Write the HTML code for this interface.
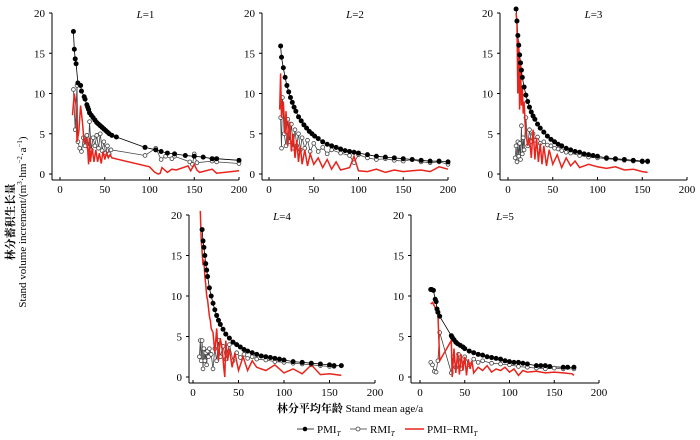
<!DOCTYPE html>
<html><head><meta charset="utf-8"><style>
html,body{margin:0;padding:0;background:#fff;}
svg{display:block;font-family:"Liberation Serif","Noto Serif CJK SC",serif;}
</style></head><body>
<svg id="c" width="700" height="440" viewBox="0 0 700 440">
<text x="0" y="0" transform="translate(14,222) rotate(-90)" text-anchor="middle" font-size="11" font-weight="bold">林分蓄积生长量</text>
<text x="0" y="0" transform="translate(26,222) rotate(-90)" text-anchor="middle" font-size="11">Stand volume increment/(m<tspan font-size="7" dy="-4">3</tspan><tspan dy="4">·hm</tspan><tspan font-size="7" dy="-4">−2</tspan><tspan dy="4">·a</tspan><tspan font-size="7" dy="-4">−1</tspan><tspan dy="4">)</tspan></text>
<text x="350" y="412" text-anchor="middle" font-size="11"><tspan font-weight="bold">林分平均年龄</tspan> Stand mean age/a</text>
<g font-size="11">
<g><line x1="297" y1="429" x2="314" y2="429" stroke="#000" stroke-width="0.8"/><circle cx="305" cy="429" r="2.3" fill="#000"/><text x="317" y="433">PMI<tspan font-size="7" font-style="italic" dy="3">T</tspan></text></g>
<g><line x1="350" y1="429" x2="367" y2="429" stroke="#333" stroke-width="0.8"/><circle cx="358" cy="429" r="2" fill="#fff" stroke="#444" stroke-width="0.8"/><text x="370" y="433">RMI<tspan font-size="7" font-style="italic" dy="3">T</tspan></text></g>
<g><line x1="405" y1="429" x2="424" y2="429" stroke="#e8241c" stroke-width="1.5"/><text x="427" y="433">PMI−RMI<tspan font-size="7" font-style="italic" dy="3">T</tspan></text></g>
</g>
</svg>
<script>
const xTicks=[0,50,100,150,200];
const yTicks=[0,5,10,15,20];
const panelLabels=["L=1","L=2","L=3","L=4","L=5"];
// Panel 1
const p1PmiAge=[15,16,17,18,20,23,24,27,28,30,31,32,33,35,37,39,41,43,45,47,49,51,53,55,58,63,95,107,113,120,128,140,150,160,170,175,200];
const p1Pmi=[17.7,15.5,14.3,13.7,11.3,11.0,10.3,9.6,9.3,8.6,8.3,8.0,7.6,7.3,7.0,6.7,6.4,6.2,6.0,5.8,5.6,5.4,5.2,5.0,4.8,4.6,3.3,3.0,2.8,2.6,2.5,2.3,2.2,2.1,1.9,1.9,1.7];
const p1RmiAge=[15,17,19,20,22,24,26,28,30,32,33,35,37,39,41,43,45,47,49,51,53,55,57,95,107,113,118,125,128,145,148,150,153,170,175,200];
const p1Rmi=[10.5,5.5,11.0,4.0,3.2,2.8,4.5,3.5,4.8,3.3,6.5,3.0,4.5,3.5,4.8,3.2,5.0,2.9,4.0,2.6,3.5,2.5,3.0,2.3,3.2,1.8,2.2,1.9,2.2,1.5,1.2,2.5,1.4,1.6,1.5,1.3];
const p1DiffAge=[14,16,18,19,21,23,25,27,29,31,32,33,34,36,38,40,42,44,46,48,50,52,54,56,58,100,106,110,112,114,120,125,130,143,146,150,153,156,170,175,200];
const p1Diff=[7.3,10.0,8.5,4.0,5.2,8.5,6.5,3.8,4.5,3.0,1.2,4.5,1.5,3.2,1.5,3.0,1.5,2.6,1.3,2.8,1.8,2.6,2.0,2.4,2.0,0.9,0.2,0.0,0.1,0.8,0.2,0.6,0.5,1.0,0.4,1.2,0.5,0.2,0.6,0.1,0.4];
// Panel 2
const p2PmiAge=[13,14,16,18,20,22,24,26,28,30,33,36,39,42,45,48,51,55,60,65,70,75,80,85,90,95,100,110,120,130,140,150,160,170,180,190,200];
const p2Pmi=[15.9,14.5,13.2,12.0,11.0,10.2,9.5,8.9,8.3,7.8,7.1,6.6,6.1,5.7,5.3,5.0,4.7,4.4,4.0,3.7,3.5,3.3,3.1,2.9,2.8,2.7,2.6,2.4,2.2,2.1,2.0,1.9,1.8,1.7,1.6,1.6,1.5];
const p2RmiAge=[13,14,15,17,19,21,23,25,27,29,31,33,35,37,40,43,46,50,55,60,65,70,80,90,95,100,110,120,130,140,150,160,170,180,190,200];
const p2Rmi=[7.0,3.2,9.5,5.0,3.5,6.8,4.0,6.2,3.2,5.5,3.5,5.0,3.0,4.5,3.2,4.2,2.8,3.8,2.8,3.3,2.5,3.0,2.6,2.3,1.4,2.4,2.0,1.8,1.9,1.7,1.6,1.8,1.5,1.4,1.5,1.2];
const p2DiffAge=[12,13,14,16,18,19,21,23,25,27,29,31,33,35,37,40,43,46,50,55,60,65,70,75,80,90,95,100,110,120,130,140,150,160,170,180,190,200];
const p2Diff=[8.0,12.5,7.0,9.0,5.0,7.8,3.5,6.5,2.8,5.0,2.0,4.2,1.5,3.5,1.2,3.0,1.0,2.5,1.2,2.0,0.8,1.8,0.6,1.5,0.5,0.8,2.2,0.4,0.3,0.6,0.2,0.5,0.3,0.4,0.5,0.3,0.9,0.6];
// Panel 3
const p3PmiAge=[9,10,11,12,13,14,15,16,18,20,22,24,26,28,30,33,36,40,44,48,52,56,60,65,70,75,80,85,90,95,100,110,120,130,140,150,156];
const p3Pmi=[20.5,19.0,17.2,16.0,14.8,13.8,12.9,12.0,10.8,9.8,9.0,8.3,7.7,7.2,6.8,6.2,5.7,5.2,4.7,4.3,4.0,3.7,3.5,3.2,3.0,2.8,2.7,2.5,2.4,2.3,2.2,2.0,1.9,1.8,1.7,1.6,1.6];
const p3RmiAge=[8,9,10,11,12,13,14,15,16,17,18,20,22,24,26,28,30,33,36,40,44,48,52,56,60,65,70,80,90,100,110,120,130,140,150,156];
const p3Rmi=[2.0,3.5,1.5,4.0,2.2,3.8,1.8,6.0,2.5,4.5,3.0,7.0,3.5,5.5,4.0,5.0,4.2,4.6,3.8,4.0,3.6,3.5,3.2,3.1,2.9,2.7,2.6,2.3,2.1,2.0,1.9,1.8,1.7,1.6,1.5,1.5];
const p3DiffAge=[9,10,11,12,13,14,15,16,17,18,19,20,22,24,26,28,30,32,34,36,38,40,43,46,50,55,60,65,70,75,80,90,100,110,120,130,140,150,156];
const p3Diff=[20.0,18.5,10.0,16.5,8.0,14.0,8.5,11.0,7.5,9.0,6.5,5.0,3.5,4.5,2.0,5.5,1.8,4.5,1.5,3.8,1.2,3.5,1.0,3.0,1.2,2.4,0.8,2.0,1.0,1.6,0.8,1.2,0.9,0.7,0.9,0.5,0.6,0.3,0.2];
// Panel 4
const p4PmiAge=[10,11,12,13,14,15,16,18,20,22,24,26,28,30,33,36,40,44,48,52,56,60,65,70,75,80,85,90,95,100,110,120,130,140,150,155,163];
const p4Pmi=[18.2,16.8,16.0,15.0,14.0,13.2,12.4,11.0,10.0,9.1,8.3,7.6,7.0,6.5,5.9,5.3,4.8,4.3,4.0,3.7,3.4,3.2,3.0,2.8,2.6,2.5,2.4,2.3,2.2,2.1,1.9,1.8,1.7,1.6,1.5,1.4,1.4];
const p4RmiAge=[7,8,9,10,11,12,13,14,15,16,17,18,20,22,24,26,28,30,33,36,40,44,48,52,56,60,65,70,80,90,100,110,120,130,140,150,155];
const p4Rmi=[2.5,4.5,2.0,4.5,1.0,3.5,2.0,3.0,1.5,3.2,2.5,3.5,2.8,1.0,3.5,2.0,4.5,2.5,3.8,2.2,4.0,2.0,3.0,2.4,2.8,2.3,2.5,2.2,2.1,1.9,1.8,1.7,1.6,1.5,1.4,1.3,1.3];
const p4DiffAge=[8,9,10,11,12,13,14,15,16,17,18,19,20,22,24,26,28,30,32,34,35,36,38,40,43,46,50,55,60,65,70,80,90,100,110,120,130,140,150,163];
const p4Diff=[20.5,17.0,15.5,13.8,14.5,12.5,11.5,10.0,9.5,8.5,7.5,7.0,6.0,5.5,3.0,6.0,2.0,4.8,3.5,1.0,0.0,4.5,2.0,3.5,1.2,3.0,0.8,2.5,0.8,2.0,1.2,0.8,1.5,0.5,1.0,0.4,1.5,0.3,0.4,0.2];
// Panel 5
const p5PmiAge=[12,13,15,17,18,19,20,22,35,36,38,40,42,45,48,50,55,60,65,70,75,80,85,90,95,100,105,110,115,120,130,135,140,145,160,165,172];
const p5Pmi=[10.8,10.8,10.7,9.6,9.3,8.4,8.0,7.5,5.1,4.9,4.6,4.3,4.1,3.9,3.7,3.5,3.2,3.0,2.8,2.7,2.5,2.4,2.3,2.2,2.0,1.9,1.8,1.8,1.7,1.6,1.4,1.4,1.4,1.3,1.2,1.2,1.2];
const p5RmiAge=[12,14,16,18,20,22,35,37,40,43,46,50,55,60,65,70,80,90,100,110,120,130,140,150,160,172];
const p5Rmi=[1.8,1.5,0.7,0.6,2.0,5.5,0.5,2.5,1.2,2.8,1.0,2.5,1.5,2.2,1.8,2.0,1.7,1.6,1.5,1.3,1.2,1.1,1.0,1.1,1.0,1.0];
const p5DiffAge=[12,14,16,19,20,22,35,36,38,40,42,44,46,48,50,52,54,56,58,60,65,70,75,80,85,90,95,100,105,110,115,120,130,140,150,160,170,172];
const p5Diff=[9.0,9.2,8.8,8.0,7.8,2.0,4.5,0.0,3.5,0.5,3.0,0.3,2.8,0.8,2.5,0.2,2.2,1.0,2.0,0.5,1.2,0.8,1.4,0.6,1.0,0.8,1.2,0.6,1.0,0.2,0.8,0.6,0.7,0.5,0.6,0.5,0.4,0.2];

const panels=[
 {ax:52,x0:60,x200:239,y20:13,y0:174,axY:180,pa:p1PmiAge,pv:p1Pmi,ra:p1RmiAge,rv:p1Rmi,da:p1DiffAge,dv:p1Diff},
 {ax:262,x0:269,x200:448,y20:13,y0:174,axY:180,pa:p2PmiAge,pv:p2Pmi,ra:p2RmiAge,rv:p2Rmi,da:p2DiffAge,dv:p2Diff},
 {ax:500,x0:508,x200:687,y20:13,y0:174,axY:180,pa:p3PmiAge,pv:p3Pmi,ra:p3RmiAge,rv:p3Rmi,da:p3DiffAge,dv:p3Diff},
 {ax:189,x0:193,x200:375,y20:215,y0:377,axY:383,pa:p4PmiAge,pv:p4Pmi,ra:p4RmiAge,rv:p4Rmi,da:p4DiffAge,dv:p4Diff},
 {ax:411,x0:420,x200:599,y20:215,y0:377,axY:383,pa:p5PmiAge,pv:p5Pmi,ra:p5RmiAge,rv:p5Rmi,da:p5DiffAge,dv:p5Diff}
];
const NS="http://www.w3.org/2000/svg";
const svg=document.getElementById('c');
function mk(tag,attrs,parent){const e=document.createElementNS(NS,tag);for(const k in attrs)e.setAttribute(k,attrs[k]);parent.appendChild(e);return e;}
panels.forEach((p,i)=>{
 const xs=v=>p.x0+(p.x200-p.x0)*v/200;
 const ys=v=>p.y0-(p.y0-p.y20)*v/20;
 const g=mk('g',{},svg);
 
 
 const axes=mk('g',{stroke:'#000','stroke-width':'1',fill:'none'},g);
 
 
 mk('line',{x1:p.ax,y1:p.y20,x2:p.ax,y2:p.axY},axes);
 mk('line',{x1:p.ax,y1:p.axY,x2:xs(200),y2:p.axY},axes);
 yTicks.forEach(t=>{
  mk('line',{x1:p.ax-3,y1:ys(t),x2:p.ax,y2:ys(t)},axes);
  const tx=mk('text',{x:p.ax-7,y:ys(t)+4,'text-anchor':'end','font-size':'11',fill:'#000'},g);
  tx.textContent=t;
  
  
 });
 xTicks.forEach(t=>{
  mk('line',{x1:xs(t),y1:p.axY,x2:xs(t),y2:p.axY-3},axes);
  const tx=mk('text',{x:xs(t),y:p.axY+13,'text-anchor':'middle','font-size':'11',fill:'#000'},g);
  tx.textContent=t;
  
  
 });
 const tt=mk('text',{x:(p.ax+xs(200))/2,y:p.y20+5,'text-anchor':'middle','font-size':'11'},g);
 tt.innerHTML='<tspan font-style="italic">L</tspan>='+panelLabels[i].split('=')[1];
 
 
 const pts=(a,v)=>a.map((x,k)=>xs(x).toFixed(1)+','+ys(v[k]).toFixed(1)).join(' ');
 const rl=mk('polyline',{points:pts(p.ra,p.rv),fill:'none',stroke:'#444','stroke-width':'0.8'},g);
 
 
 const pl=mk('polyline',{points:pts(p.pa,p.pv),fill:'none',stroke:'#000','stroke-width':'0.8'},g);
 
 
 p.ra.forEach((x,k)=>{const c=mk('circle',{cx:xs(x),cy:ys(p.rv[k]),r:1.9,fill:'#fff',stroke:'#444','stroke-width':'0.8'},g);
  
  });
 const dl=mk('polyline',{points:pts(p.da,p.dv),fill:'none',stroke:'#e8241c','stroke-width':'1.5'},g);
 
 
 p.pa.forEach((x,k)=>{const c=mk('circle',{cx:xs(x),cy:ys(p.pv[k]),r:2.5,fill:'#000'},g);
  
  });
});
</script>
</body></html>
